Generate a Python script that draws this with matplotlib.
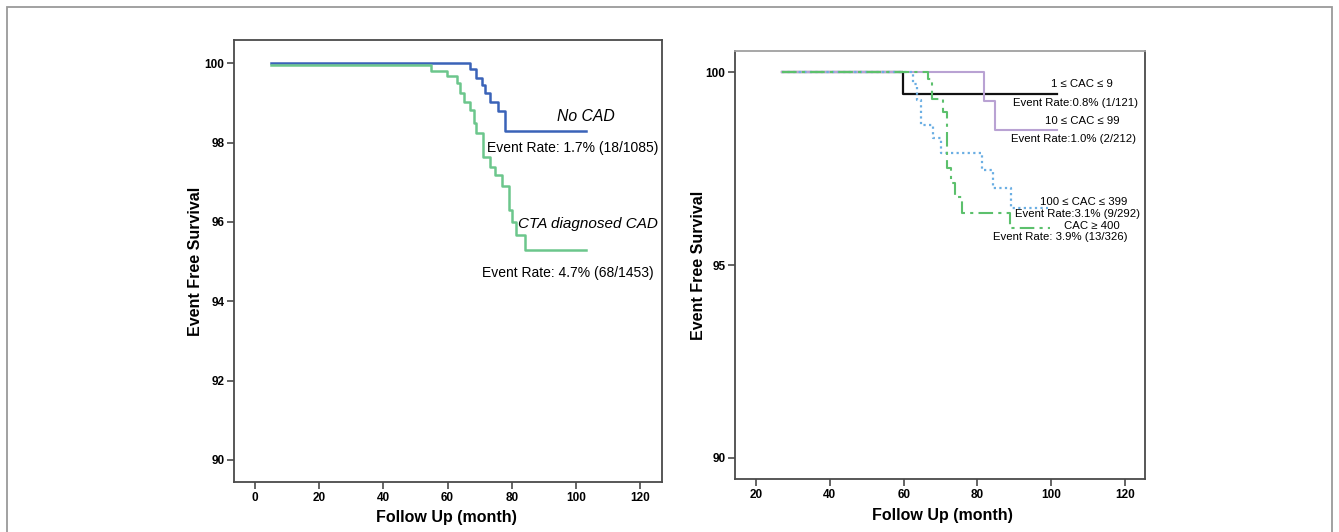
import matplotlib.pyplot as plt
from matplotlib.patches import Rectangle

# ---- left panel: CTA diagnosis ----
nocad_month = [5, 67.0, 68.8, 70.8, 71.8, 73.2, 75.8, 77.9, 103]
nocad_surv = [100, 99.85, 99.62, 99.45, 99.24, 99.03, 98.80, 98.30, 98.30]

cad_month = [5, 54.8, 59.8, 62.8, 64.0, 65.0, 67.1, 68.1, 68.9, 70.9, 73.3,
             74.8, 77.0, 79.2, 80.1, 81.2, 84.1, 103]
cad_surv = [99.95, 99.81, 99.68, 99.50, 99.24, 99.03, 98.82, 98.49, 98.25,
            97.65, 97.39, 97.18, 96.91, 96.30, 96.00, 95.67, 95.29, 95.29]

# ---- right panel: CAC groups ----
cac1_month = [27, 59.9, 101.5]
cac1_surv = [100, 99.43, 99.43]

cac10_month = [27, 81.8, 84.7, 101.5]
cac10_surv = [100, 99.26, 98.50, 98.50]

cac100_month = [27, 62.6, 63.7, 64.6, 67.9, 70.0, 81.2, 84.1, 89.0, 99.2]
cac100_surv = [100, 99.71, 99.28, 98.63, 98.29, 97.91, 97.46, 96.99, 96.47, 96.47]

cac400_month = [27, 66.7, 67.8, 70.8, 71.7, 72.8, 73.9, 75.7, 88.8, 99.7]
cac400_surv = [100, 99.82, 99.32, 98.98, 97.51, 97.12, 96.77, 96.36, 95.95, 95.95]

plt.rcParams['font.family'] = ['Liberation Sans', 'DejaVu Sans']

fig = plt.figure(figsize=(13.39, 5.32), dpi=100)

# outer frame around the figure
fig.patches.append(Rectangle((7 / 1339, -0.05), 1325 / 1339, 1 - 7 / 532 + 0.05,
                             transform=fig.transFigure, fill=False,
                             edgecolor='#9a9a9a', lw=1.3))

ax1 = fig.add_axes([0.1748, 0.0940, 0.3196, 0.8308])
ax2 = fig.add_axes([0.5489, 0.0996, 0.3062, 0.8045])


def style(ax):
    for s in ax.spines.values():
        s.set_color('#4a4a4a')
        s.set_linewidth(1.3)
    ax.tick_params(direction='out', length=5, width=1.2, color='#4a4a4a',
                   labelsize=8.5, pad=2)
    for lab in ax.get_xticklabels() + ax.get_yticklabels():
        lab.set_fontweight('bold')
    ax.set_xlabel('Follow Up (month)', fontsize=11.5, fontweight='bold', va='center')
    ax.set_ylabel('Event Free Survival', fontsize=11.5, fontweight='bold',
                  va='center', ha='center')


# left
ax1.step(nocad_month, nocad_surv, where='post', color='#3a63b8', lw=1.8)
ax1.step(cad_month, cad_surv, where='post', color='#6cc68c', lw=1.8)
ax1.set_xlim(-6.5, 126.8)
ax1.set_ylim(89.445, 100.587)
ax1.set_xticks([0, 20, 40, 60, 80, 100, 120])
ax1.set_yticks([90, 92, 94, 96, 98, 100])
style(ax1)
ax1.xaxis.set_label_coords(0.497, -0.080)
ax1.yaxis.set_label_coords(-0.091, 0.5)

ax1.text(103.1, 98.65, 'No CAD', style='italic', fontsize=11.3, ha='center', va='center')
ax1.text(99.1, 97.86, 'Event Rate: 1.7% (18/1085)', fontsize=10, ha='center', va='center')
ax1.text(103.7, 95.94, 'CTA diagnosed CAD', style='italic', fontsize=11, ha='center', va='center')
ax1.text(97.6, 94.71, 'Event Rate: 4.7% (68/1453)', fontsize=10, ha='center', va='center')

# right
ax2.step(cac1_month, cac1_surv, where='post', color='#111111', lw=1.6)
ax2.step(cac10_month, cac10_surv, where='post', color='#b9a2d3', lw=1.5)
ax2.step(cac100_month, cac100_surv, where='post', color='#6aaee3', lw=1.6,
         linestyle=(0, (1, 1.5)))
ax2.step(cac400_month, cac400_surv, where='post', color='#5cc06c', lw=1.5,
         linestyle=(0, (7, 2.5, 1.5, 2.5)))
ax2.set_xlim(14.3, 125.4)
ax2.set_ylim(89.447, 100.553)
ax2.set_xticks([20, 40, 60, 80, 100, 120])
ax2.set_yticks([90, 95, 100])
style(ax2)
ax2.spines['top'].set_color('#a0a0a0')
ax2.xaxis.set_label_coords(0.507, -0.086)
ax2.yaxis.set_label_coords(-0.090, 0.5)

fs = 8.2
ax2.text(108.2, 99.71, '1 ≤ CAC ≤ 9', fontsize=fs, ha='center', va='center')
ax2.text(106.7, 99.21, 'Event Rate:0.8% (1/121)', fontsize=fs, ha='center', va='center')
ax2.text(108.3, 98.74, '10 ≤ CAC ≤ 99', fontsize=fs, ha='center', va='center')
ax2.text(106.1, 98.26, 'Event Rate:1.0% (2/212)', fontsize=fs, ha='center', va='center')
ax2.text(108.7, 96.64, '100 ≤ CAC ≤ 399', fontsize=fs, ha='center', va='center')
ax2.text(107.2, 96.32, 'Event Rate:3.1% (9/292)', fontsize=fs, ha='center', va='center')
ax2.text(111.0, 96.01, 'CAC ≥ 400', fontsize=fs, ha='center', va='center')
ax2.text(102.5, 95.72, 'Event Rate: 3.9% (13/326)', fontsize=fs, ha='center', va='center')

fig.savefig('out.png', dpi=100)
plt.close(fig)
